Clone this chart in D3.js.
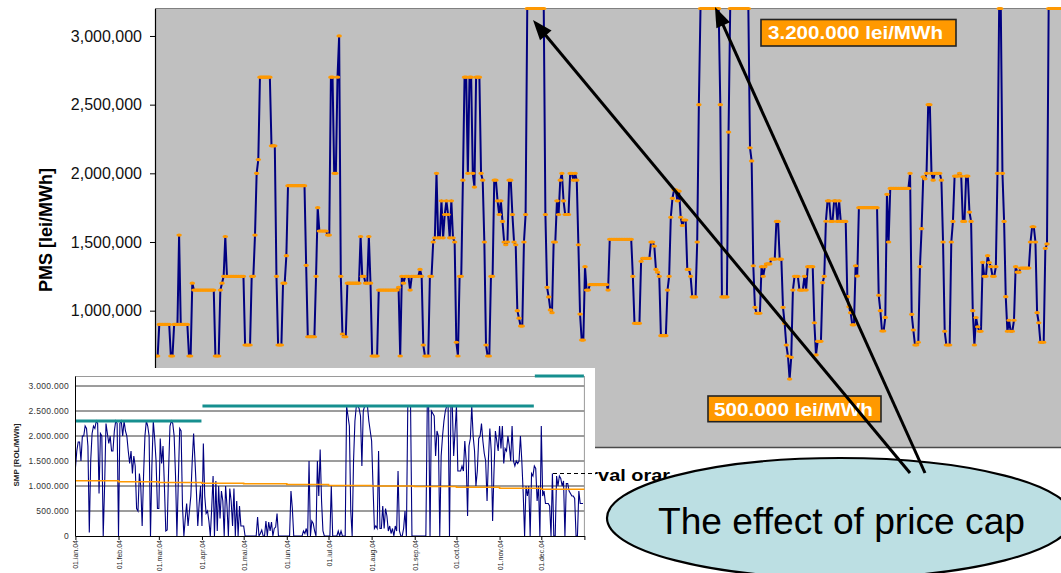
<!DOCTYPE html>
<html><head><meta charset="utf-8">
<script src="https://cdn.jsdelivr.net/npm/d3@7"></script>
<style>html,body{margin:0;padding:0;background:#fff;overflow:hidden}svg{display:block;font-family:Arial,"Liberation Sans",sans-serif}</style>
</head><body><svg id="c" width="1061" height="573"></svg>
<script>
// ---------- MAIN CHART DATA: hourly PMS, runs of [value in thousand lei/MWh, hours] ----------
const pmsRuns = [
[670,2],[900,7],[670,2],[900,3],[1550,1],[900,5],[670,2],[1200,1],[1150,13],[670,3],
[1150,1],[1200,1],[1250,1],[1540,1],[1250,11],[750,4],[1250,2],[1550,1],[2000,1],[2100,1],
[2700,7],[2200,3],[1250,1],[750,3],[1200,2],[1400,1],[1910,11],[1330,1],[810,5],[1250,1],
[1750,1],[1580,5],[1550,2],[2700,2],[2000,2],[2700,1],[3000,1],[1250,1],[830,1],[810,2],
[1200,8],[1540,1],[1250,2],[1200,2],[1540,1],[1200,1],[670,4],[1150,12],[1170,1],[670,1],
[1250,1],[1200,1],[1250,3],[1150,1],[1250,5],[1300,1],[1250,1],[750,1],[670,3],[1250,2],
[1500,1],[1530,1],[2000,1],[1530,2],[1800,1],[1530,1],[1700,1],[1800,1],[1700,1],[1530,1],
[1800,1],[1530,1],[1500,1],[770,1],[670,1],[1250,2],[1950,1],[2700,2],[2000,1],[2700,2],
[2000,1],[1900,1],[2700,3],[2000,1],[1950,1],[1500,1],[750,1],[670,2],[1250,2],[1950,2],
[1800,1],[1700,1],[1800,1],[1650,1],[1500,1],[1480,1],[1500,1],[1950,2],[1700,1],[1500,1],
[1480,1],[1000,1],[945,1],[888,2],[1500,1],[1700,1],[3200,11],[1700,1],[1170,1],[1100,1],
[1005,1],[985,1],[1500,2],[1800,1],[1700,1],[1950,1],[2000,1],[1800,1],[1700,3],[2000,2],
[1950,1],[2000,1],[1950,1],[1480,1],[975,1],[786,2],[1320,1],[1150,2],[1190,11],[1150,1],
[1520,14],[1250,1],[908,4],[1359,1],[1380,5],[1500,2],[1470,1],[1300,1],[1280,1],[1250,1],
[818,4],[1150,1],[1250,1],[1680,1],[1818,1],[1880,2],[1800,1],[1870,1],[1680,1],[1620,1],
[1660,2],[1300,2],[1250,1],[1100,3],[1500,1],[2500,1],[3200,12],[2500,1],[1100,4],[2300,1],
[3200,12],[2186,1],[2090,1],[1327,1],[1024,1],[981,3],[1320,1],[1250,1],[1320,1],[1340,3],
[1375,3],[1650,2],[1375,2],[1024,1],[908,1],[750,1],[670,1],[502,1],[660,1],[1150,1],
[1250,3],[1150,3],[1250,1],[1150,1],[1320,4],[912,1],[678,1],[777,3],[1204,1],[1250,1],
[1651,1],[1800,2],[1650,2],[1800,2],[1650,1],[1800,1],[1650,4],[1102,1],[1029,1],[985,1],
[897,2],[1327,1],[1252,1],[1750,12],[1112,1],[1000,1],[852,2],[951,1],[1847,1],[1500,1],
[1890,12],[2000,1],[973,1],[859,1],[750,2],[770,1],[1320,1],[1597,1],[1975,1],[1960,1],
[2000,1],[2500,2],[2000,1],[1950,1],[2000,4],[1950,1],[1500,1],[850,1],[750,3],[1500,1],
[1650,1],[1980,3],[2000,1],[1980,1],[1650,2],[1980,2],[1718,1],[1650,1],[1000,1],[750,1],
[950,1],[883,1],[850,2],[1352,1],[1250,2],[1400,1],[1350,1],[1320,1],[1250,2],[1320,1],
[2000,1],[3200,2],[2000,1],[1650,1],[1102,1],[850,1],[930,1],[850,2],[930,1],[1320,1],
[1280,2],[1310,6],[1500,1],[1611,2],[1500,1],[985,1],[912,1],[770,3],[1454,1],[1486,1],
[3200,10]
];
const pmsTicks = [0,500000,1000000,1500000,2000000,2500000,3000000];
const pmsMax = 3200000;
const capText = "3.200.000 lei/MWh";
const floorText = "500.000 lei/MWh";
const calloutText = "The effect of price cap";

// ---------- INSET DATA: daily SMP 2004 (thousand ROL/MWh) ----------
const monthNames = ["ian","feb","mar","apr","mai","iun","iul","aug","sep","oct","nov","dec"];
const smpJan = [1350,1700,1880,1880,1500,2000,2000,2200,2150,1800,70,1500,2050,2200,2150,2300,2250,850,2050,2000,0,1000,2250,2050,1850,2000,1700,1700,2100,2300,2250];
const smpFeb = [0,2250,2300,2000,2300,2100,2000,1700,1450,1700,1250,1600,1400,550,500,1250,1000,200,1200,2000,2300,2200,2000,0,1400,2300,1950,1500,550];
const smpMar = [550,1950,1450,1800,1000,100,120,1300,2200,2300,2250,2000,1200,0,1100,2150,2100,600,0,350,650,200,500,800,1500,2050,1500,900,200,650,1000];
const smpApr = [200,1850,800,450,500,300,0,550,1200,0,1100,100,1000,350,900,700,0,1000,600,0,950,700,200,950,0,700,0,600,200,200];
const smpMay = [200,0,0,0,0,0,0,0,0,0,380,0,50,120,0,0,300,0,280,100,280,0,150,180,450,0,0,0,0,0,0];
const smpJun = [0,0,0,900,550,0,0,0,0,0,0,0,100,50,150,0,1500,0,300,250,100,0,1500,800,1730,700,100,0,0,0];
const smpJul = [0,0,1000,0,0,0,0,100,0,100,0,0,0,2600,2400,2200,500,0,1500,2300,2600,2600,2550,2400,1400,2500,2600,2600,2600,2300,2100];
const smpAug = [1900,1000,150,200,150,1700,150,150,600,150,550,400,100,200,50,150,0,200,100,1300,100,0,0,150,500,0,2600,2600,2600,0,0];
const smpSep = [0,0,0,0,0,0,0,0,0,2600,2600,0,2500,2450,2400,1600,2100,2000,0,1600,2000,2300,2500,2600,2600,0,2600,2600,1600,2100];
const smpOct = [2600,1300,1300,1300,1400,1300,1900,1500,400,1800,1950,2600,2000,1700,1000,1300,1950,2000,2250,1900,1650,1500,700,1550,2150,1700,300,1300,2100,1900,1700];
const smpNov = [2200,1750,2200,1450,1750,1700,2000,1800,1500,2200,1500,1400,1500,1450,1500,2000,1500,850,0,1000,800,1000,0,1250,1200,1400,1350,700,1000,0];
const smpDec = [2200,800,900,650,650,650,600,0,1250,0,0,1200,1000,1200,1150,1000,1100,0,1050,1050,900,850,800,800,750,0,0,900,650,650,650];
const avgMonthly = [1105,1085,1070,1055,1045,1030,1010,1000,990,975,955,935];
const capValues = [2300,2600,3200];
const capStarts = ["2004-01-01","2004-04-01","2004-11-26"];
const capEnds   = ["2004-04-01","2004-11-26","2005-01-01"];
const smpTicks = [0,500000,1000000,1500000,2000000,2500000,3000000];

// ---------- DRAW ----------
const svg = d3.select("#c");
const defs = svg.append("defs");

// main chart
const pms = pmsRuns.flatMap(([v,n]) => Array(n).fill(v*1000));
const yM = d3.scaleLinear().domain([0, pmsMax]).range([448, 8.5]);
const xM = d3.scaleLinear().domain([0, 550]).range([156, 156 + 550*1.65]);

svg.append("rect").attr("x",155).attr("y",yM(pmsMax)).attr("width",930).attr("height",yM(0)-yM(pmsMax)-1).attr("fill","#c0c0c0");
svg.append("line").attr("x1",155).attr("x2",1061).attr("y1",yM(pmsMax)).attr("y2",yM(pmsMax)).attr("stroke","#808080").attr("stroke-width",1.2);
svg.append("line").attr("x1",155).attr("x2",1061).attr("y1",447.5).attr("y2",447.5).attr("stroke","#4a4a4a").attr("stroke-width",1.5);

defs.append("clipPath").attr("id","mclip").append("rect").attr("x",155).attr("y",4).attr("width",920).attr("height",446);
const gM = svg.append("g").attr("clip-path","url(#mclip)");
gM.append("path").datum(pms)
  .attr("d", d3.line().x((d,i)=>xM(i)).y(d=>yM(d)))
  .attr("fill","none").attr("stroke","#000080").attr("stroke-width",2).attr("stroke-linejoin","round");
gM.selectAll("ellipse.m").data(pms).join("ellipse").attr("class","m")
  .attr("cx",(d,i)=>xM(i)).attr("cy",d=>yM(d)).attr("rx",2.8).attr("ry",1.6).attr("fill","#ff9900");

const axM = svg.append("g").attr("transform","translate(155,0)")
  .call(d3.axisLeft(yM).tickValues(pmsTicks).tickSize(5).tickSizeOuter(0).tickPadding(8).tickFormat(d3.format(",")));
axM.select(".domain").attr("stroke","#000").attr("stroke-width",1.2);
axM.selectAll(".tick line").attr("stroke","#000");
axM.selectAll("text").attr("font-size","16px").attr("fill","#111").attr("font-family","Arial, 'Liberation Sans', sans-serif");

svg.append("text").attr("transform","translate(52,230) rotate(-90)").attr("text-anchor","middle")
  .attr("font-size","18px").attr("font-weight","bold").text("PMS [lei/MWh]");
svg.append("text").attr("x",555).attr("y",481).attr("font-size","17px").attr("font-weight","bold")
  .attr("textLength",115).attr("lengthAdjust","spacingAndGlyphs").text("Interval orar");

// ---------- inset ----------
svg.append("rect").attr("x",0).attr("y",368).attr("width",595).attr("height",205).attr("fill","#fff");
const t0 = new Date(2004,0,1), t1 = new Date(2005,0,1);
const xI = d3.scaleTime().domain([t0,t1]).range([75.4,584.4]);
const yI = d3.scaleLinear().domain([0,3200000]).range([536,376]);
const smpDaily = [].concat(smpJan,smpFeb,smpMar,smpApr,smpMay,smpJun,smpJul,smpAug,smpSep,smpOct,smpNov,smpDec)
  .map((v,i)=>({date:d3.timeDay.offset(t0,i), v:v*1000}));

// grid
svg.append("g").selectAll("line").data(smpTicks.slice(1)).join("line")
  .attr("x1",xI(t0)).attr("x2",xI(t1)).attr("y1",d=>yI(d)).attr("y2",d=>yI(d))
  .attr("stroke","#3a3a3a").attr("stroke-width",1);
// frame
svg.append("line").attr("x1",75).attr("x2",xI(t1)).attr("y1",376.5).attr("y2",376.5).attr("stroke","#9a9a9a");
svg.append("line").attr("x1",xI(t1)).attr("x2",xI(t1)).attr("y1",376).attr("y2",536).attr("stroke","#9a9a9a");

defs.append("clipPath").attr("id","iclip").append("rect").attr("x",75).attr("y",376).attr("width",510).attr("height",161);
const gI = svg.append("g").attr("clip-path","url(#iclip)");
gI.append("path").datum(smpDaily)
  .attr("d", d3.line().x(d=>xI(d.date)).y(d=>yI(d.v)))
  .attr("fill","none").attr("stroke","#000080").attr("stroke-width",1.1);
const avgPts = avgMonthly.map((v,m)=>({date:new Date(2004,m,1), v:v*1000}));
avgPts.push({date:t1, v:avgMonthly[11]*1000});
gI.append("path").datum(avgPts)
  .attr("d", d3.line().curve(d3.curveStepAfter).x(d=>xI(d.date)).y(d=>yI(d.v)))
  .attr("fill","none").attr("stroke","#ff9900").attr("stroke-width",1.6);
const pd = d3.timeParse("%Y-%m-%d");
svg.append("g").selectAll("line").data(capValues).join("line")
  .attr("x1",(d,i)=>xI(pd(capStarts[i]))+0.5).attr("x2",(d,i)=>xI(pd(capEnds[i]))-0.5)
  .attr("y1",d=>yI(d*1000)).attr("y2",d=>yI(d*1000))
  .attr("stroke","#168f8f").attr("stroke-width",3.2);

const ro = d3.formatLocale({decimal:",",thousands:".",grouping:[3],currency:["",""]});
const axIY = svg.append("g").attr("transform","translate(75,0)")
  .call(d3.axisLeft(yI).tickValues(smpTicks).tickSize(0).tickPadding(6).tickFormat(ro.format(",")));
axIY.select(".domain").attr("stroke","#000").attr("stroke-width",1);
axIY.selectAll("text").attr("font-size","8.5px").attr("letter-spacing","0.3px").attr("fill","#333");

const fmtY = d3.timeFormat("%y");
const axIX = svg.append("g").attr("transform","translate(0,536)")
  .call(d3.axisBottom(xI).ticks(d3.timeMonth.every(1)).tickSize(4).tickSizeOuter(0)
    .tickFormat(d => d.getFullYear()===2004 ? "01." + monthNames[d.getMonth()] + "." + fmtY(d) : ""));
axIX.select(".domain").attr("stroke","#000").attr("stroke-width",1.2);
axIX.selectAll(".tick line").attr("stroke","#000");
axIX.selectAll("text").attr("x",0).attr("y",0).attr("dy",null)
  .attr("transform","translate(2.5,4) rotate(-90)").style("text-anchor","end")
  .attr("font-size","7px").attr("fill","#222");

svg.append("text").attr("transform","translate(19,455) rotate(-90)").attr("text-anchor","middle")
  .attr("font-size","8px").attr("font-weight","bold").attr("fill","#222").text("SMP [ROL/MWh]");
svg.append("line").attr("x1",553).attr("x2",597).attr("y1",473.5).attr("y2",473.5)
  .attr("stroke","#000").attr("stroke-width",1).attr("stroke-dasharray","4,3");

// ---------- annotations ----------
function labelBox(x,y,w,h,txt,tx,ty,tw){
  svg.append("rect").attr("x",x).attr("y",y).attr("width",w).attr("height",h)
    .attr("fill","#ff9900").attr("stroke","#222").attr("stroke-width",1.6);
  svg.append("text").attr("x",tx).attr("y",ty).attr("fill","#fff").attr("font-weight","bold")
    .attr("font-size","18px").attr("textLength",tw).attr("lengthAdjust","spacingAndGlyphs").text(txt);
}
labelBox(761,19.5,195,26.5,capText,768,38.8,175);
labelBox(708,396,173,25.7,floorText,714,415.6,159);

svg.append("ellipse").attr("cx",840).attr("cy",518).attr("rx",233).attr("ry",60)
  .attr("fill","#bcdfe3").attr("stroke","#000").attr("stroke-width",2.2);
svg.append("text").attr("x",658).attr("y",534).attr("font-size","36px").attr("fill","#000")
  .attr("textLength",367).attr("lengthAdjust","spacingAndGlyphs").text(calloutText);

function arrow(x1,y1,x2,y2){
  const dx=x2-x1, dy=y2-y1, L=Math.hypot(dx,dy), ux=dx/L, uy=dy/L;
  const hl=20, hw=7.5;
  const bx=x2-ux*hl, by=y2-uy*hl;
  svg.append("line").attr("x1",x1).attr("y1",y1).attr("x2",x2-ux*10).attr("y2",y2-uy*10)
    .attr("stroke","#000").attr("stroke-width",3);
  svg.append("path").attr("d",`M${x2},${y2}L${bx-uy*hw},${by+ux*hw}L${bx+uy*hw},${by-ux*hw}Z`).attr("fill","#000");
}
arrow(910,473,533,20);
arrow(925,473,715,7);
</script></body></html>
